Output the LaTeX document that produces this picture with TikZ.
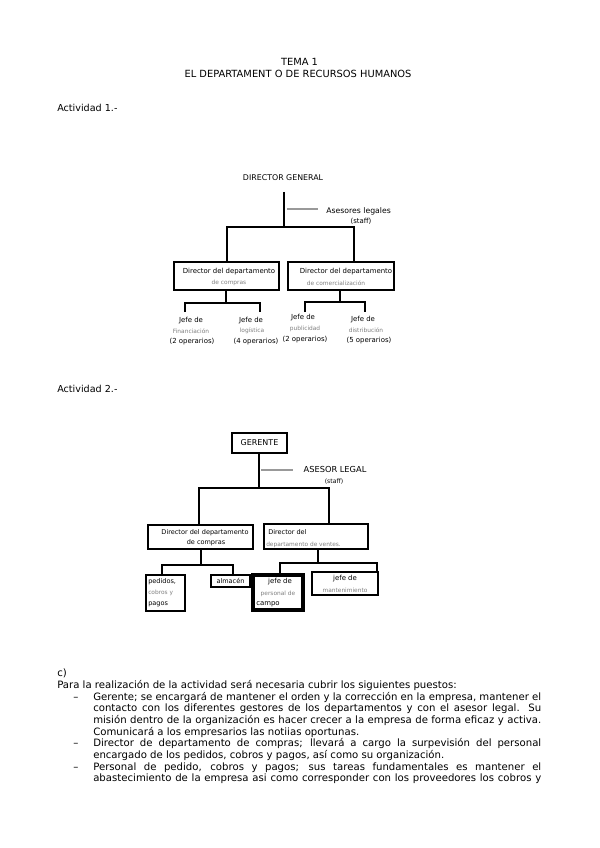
\documentclass[tikz,border=0pt]{standalone}
\usepackage{fontspec}
\setmainfont{DejaVu Sans}
\newcommand{\bodyfont}{\fontsize{7.6}{8.8}\selectfont}
\newcommand{\chartfont}{\fontsize{5.2}{6.5}\selectfont}
\newcommand{\smallgray}{\fontsize{4.4}{6}\selectfont\color{black!50}}
\begin{document}
\begin{tikzpicture}[x=0.75pt,y=-0.75pt,
  ln/.style={line width=1.5pt},
  grayln/.style={line width=1.5pt,black!40},
  thickbox/.style={draw,line width=2.2pt,inner sep=0pt},
  medbox/.style={draw,line width=1.8pt,inner sep=0pt},
  txt/.style={inner sep=0pt,font=\chartfont,align=center},
  plain/.style={inner sep=0pt,font=\bodyfont,anchor=base west},
  parbox/.style={inner sep=0pt,anchor=base west,text width=336pt,align=justify,font=\bodyfont},
]
\useasboundingbox (0,0) rectangle (599,848);
\fill[white] (0,0) rectangle (599,848);

% ---------- header ----------
\node[inner sep=0pt,font=\fontsize{7.4}{9}\selectfont,anchor=base] (t1) at (299.5,66) {TEMA 1};
\node[inner sep=0pt,font=\fontsize{7.4}{9}\selectfont,anchor=base] (t2) at (298,78) {EL DEPARTAMENT O DE RECURSOS HUMANOS};
\node[inner sep=0pt,font=\fontsize{7.2}{9}\selectfont,anchor=base west] (a1) at (57,112) {Actividad 1.-};
\node[inner sep=0pt,font=\fontsize{7.2}{9}\selectfont,anchor=base west] (a2) at (57,392) {Actividad 2.-};

% ---------- chart 1 ----------
\node[txt,font=\fontsize{5.9}{7}\selectfont] (dg) at (283,178) {DIRECTOR GENERAL};
\coordinate (dgb) at (284,192);
\coordinate (j1) at (284,227);
\coordinate (g1a) at (287,209);
\coordinate (g1b) at (318,209);
\node[txt,anchor=west,font=\fontsize{5.8}{7}\selectfont] (ase) at (326,211) {Asesores legales};
\node[txt] (stf) at (361,221) {(staff)};
\draw[ln] (dgb) -- (j1);
\draw[grayln] (g1a) -- (g1b);

\node[thickbox,minimum width=78.75pt,minimum height=21pt] (b1a) at (226.5,276) {};
\node[thickbox,minimum width=79.5pt,minimum height=21pt] (b1b) at (341,276) {};
\node[txt] (b1at) at (229,271.5) {Director del departamento};
\node[txt,font=\smallgray] (b1at2) at (229,283) {de compras};
\node[txt] (b1bt) at (346,271.5) {Director del departamento};
\node[txt,font=\smallgray] (b1bt2) at (336,283) {de comercialización};

\draw[ln] (227,227) -- (354,227);
\draw[ln] (227,226.3) -- (b1a.north -| 227,0);
\draw[ln] (354,226.3) -- (b1b.north -| 354,0);

\coordinate (h1a) at (226,303);
\draw[ln] (b1a.south -| 226,0) -- (h1a);
\draw[ln] (185,312) -- (185,303) -- (260,303) -- (260,312);
\coordinate (h1b) at (340,302);
\draw[ln] (b1b.south -| 340,0) -- (h1b);
\draw[ln] (305,312) -- (305,302) -- (365,302) -- (365,312);

\node[txt] (jf1) at (191,321) {Jefe de};
\node[txt,font=\smallgray] (jf1b) at (191,331) {Financiación};
\node[txt] (jf1c) at (192,342) {(2 operarios)};
\node[txt] (jl1) at (251,321) {Jefe de};
\node[txt,font=\smallgray] (jl1b) at (252,331) {logística};
\node[txt] (jl1c) at (256,342) {(4 operarios)};
\node[txt] (jp1) at (303,318) {Jefe de};
\node[txt,font=\smallgray] (jp1b) at (305,329) {publicidad};
\node[txt] (jp1c) at (305,340) {(2 operarios)};
\node[txt] (jd1) at (363,320) {Jefe de};
\node[txt,font=\smallgray] (jd1b) at (366,330) {distribución};
\node[txt] (jd1c) at (369,341) {(5 operarios)};

% ---------- chart 2 ----------
\node[thickbox,minimum width=41.25pt,minimum height=15pt] (ger) at (259.5,443) {};
\node[txt,font=\fontsize{6}{7}\selectfont] (gert) at (259.5,442.5) {GERENTE};
\coordinate (j2) at (259,488);
\draw[ln] (ger.south -| 259,0) -- (j2);
\draw[grayln] (261,470) -- (293,470);
\node[txt,font=\fontsize{6.2}{7}\selectfont] (asl) at (335,469) {ASESOR LEGAL};
\node[txt,font=\fontsize{4.6}{6}\selectfont] (stf2) at (334,482) {(staff)};
\draw[ln] (199,488) -- (329,488);

\node[medbox,minimum width=78.75pt,minimum height=18pt] (b2a) at (200.5,537) {};
\node[medbox,minimum width=78pt,minimum height=18.75pt] (b2b) at (316,536.5) {};
\draw[ln] (199,487.3) -- (b2a.north -| 199,0);
\draw[ln] (329,487.3) -- (b2b.north -| 329,0);
\node[txt,font=\fontsize{4.9}{6}\selectfont] (b2at) at (205,533) {Director del departamento};
\node[txt,font=\fontsize{4.9}{6}\selectfont] (b2at2) at (206,543) {de compras};
\node[txt,anchor=west,font=\fontsize{4.9}{6}\selectfont] (b2bt) at (268,532) {Director del};
\node[txt,anchor=west,font=\smallgray] (b2bt2) at (266,545) {departamento de ventes.};

\draw[ln] (b2a.south -| 201,0) -- (201,565);
\draw[ln] (162,576) -- (162,565) -- (233,565) -- (233,576);
\draw[ln] (b2b.south -| 318,0) -- (318,563);
\draw[ln] (280,576) -- (280,563) -- (377,563) -- (377,573);

\node[medbox,minimum width=29.25pt,minimum height=27pt] (bp) at (165.5,593) {};
\node[txt,anchor=west,font=\fontsize{4.9}{6}\selectfont] (bpt1) at (148,582) {pedidos,};
\node[txt,anchor=west,font=\smallgray] (bpt2) at (148,593) {cobros y};
\node[txt,anchor=west,font=\fontsize{4.9}{6}\selectfont] (bpt3) at (148,604) {pagos};

\node[thickbox,minimum width=29.25pt,minimum height=9pt] (bal) at (230.5,581) {};
\node[txt,font=\fontsize{4.9}{6}\selectfont] (balt) at (230.5,580.5) {almacén};

\node[draw,line width=2.6pt,inner sep=0pt,minimum width=37.5pt,minimum height=26.25pt] (bjc) at (278,592.5) {};
\node[txt,font=\fontsize{5.2}{6}\selectfont] (bjc1) at (280,582) {jefe de};
\node[txt,font=\smallgray] (bjc2) at (278,594) {personal de};
\node[txt,anchor=west,font=\fontsize{5.2}{6}\selectfont] (bjc3) at (256,604) {campo};

\node[medbox,minimum width=49.5pt,minimum height=17.25pt] (bjm) at (345,583.5) {};
\node[txt,font=\fontsize{5.2}{6}\selectfont] (bjm1) at (345,579) {jefe de};
\node[txt,font=\smallgray] (bjm2) at (345,590) {mantenimiento};

% ---------- text ----------
\node[plain] (c) at (57,676) {c)};
\node[plain] (para) at (57,688) {Para la realización de la actividad será necesaria cubrir los siguientes puestos:};

\node[plain] (d1) at (73,700) {–};
\node[parbox] (p1) at (93,700)
{Gerente; se encargará de mantener el orden y la corrección en la empresa, mantener el\linebreak contacto con los diferentes gestores de los departamentos y con el asesor legal. Su\linebreak misión dentro de la organización es hacer crecer a la empresa de forma eficaz y activa.\linebreak Comunicará a los empresarios las notiias oportunas.};

\node[plain] (d2) at (73,746.5) {–};
\node[parbox] (p2) at (93,746.5)
{Director de departamento de compras; llevará a cargo la surpevisión del personal\linebreak encargado de los pedidos, cobros y pagos, así como su organización.};

\node[plain] (d3) at (73,770) {–};
\node[parbox] (p3) at (93,770)
{\parfillskip=0pt Personal de pedido, cobros y pagos; sus tareas fundamentales es mantener el\linebreak abastecimiento de la empresa asi como corresponder con los proveedores los cobros y\par};
\end{tikzpicture}
\end{document}
